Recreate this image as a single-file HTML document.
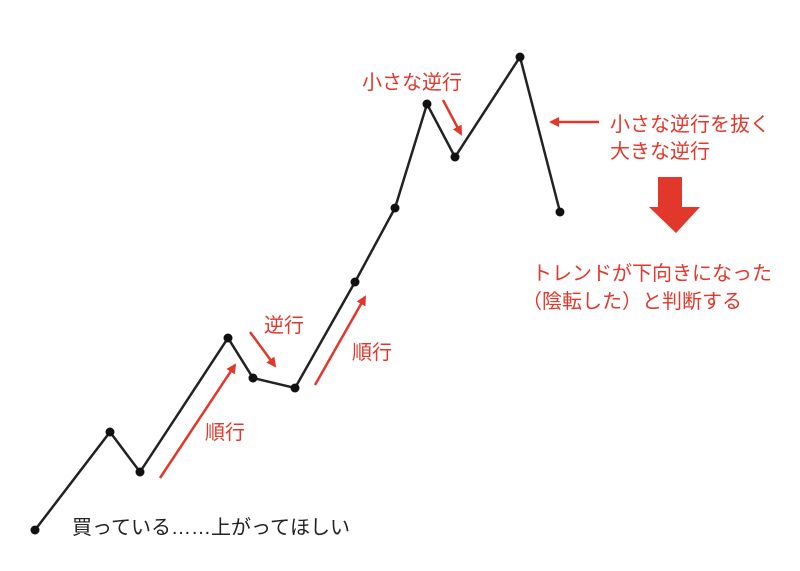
<!DOCTYPE html>
<html><head><meta charset="utf-8"><style>
body{margin:0;background:#fff;}
svg text{font-family:"Liberation Sans","Noto Sans CJK JP",sans-serif;font-size:20px;}
</style></head><body>
<svg width="800" height="566" viewBox="0 0 800 566" xmlns="http://www.w3.org/2000/svg">
<defs>
<marker id="ah" markerWidth="10" markerHeight="10" refX="8" refY="5" orient="auto" markerUnits="userSpaceOnUse">
<path d="M0,0 L10,5 L0,10 Z" fill="#e2372b"/></marker>
</defs>
<polyline points="35,530 110,432 140,472 228,338 253,378 295,388 355,282 395,208 427,104 455,157 520,57 560,212" fill="none" stroke="#222" stroke-width="2.5"/>
<g fill="#111">
<circle cx="35" cy="530" r="4.5"/><circle cx="110" cy="432" r="4.5"/><circle cx="140" cy="472" r="4.5"/><circle cx="228" cy="338" r="4.5"/><circle cx="253" cy="378" r="4.5"/><circle cx="295" cy="388" r="4.5"/><circle cx="355" cy="282" r="4.5"/><circle cx="395" cy="208" r="4.5"/><circle cx="427" cy="104" r="4.5"/><circle cx="455" cy="157" r="4.5"/><circle cx="520" cy="57" r="4.5"/><circle cx="560" cy="212" r="4.5"/>
</g>
<g stroke="#e2372b" stroke-width="2.5" fill="none" marker-end="url(#ah)">
<line x1="160" y1="478" x2="235" y2="365"/>
<line x1="315" y1="385" x2="365" y2="297"/>
<line x1="250" y1="332" x2="275" y2="366"/>
<line x1="443" y1="100" x2="461" y2="134"/>
<line x1="599" y1="122" x2="551" y2="122"/>
</g>
<polygon points="658,177 682,177 682,207 700,207 676,233 649,207 658,207" fill="#e2372b"/>
<g fill="#e2372b">
<text x="264" y="332">逆行</text>
<text x="352" y="359">順行</text>
<text x="205" y="439">順行</text>
<text x="362" y="89">小さな逆行</text>
<text x="610" y="131">小さな逆行を抜く</text>
<text x="610" y="158">大きな逆行</text>
<text x="532" y="280">トレンドが下向きになった</text>
<text x="522" y="308">（陰転した）と判断する</text>
</g>
<text x="72" y="534" fill="#222">買っている……上がってほしい</text>
</svg>
</body></html>
